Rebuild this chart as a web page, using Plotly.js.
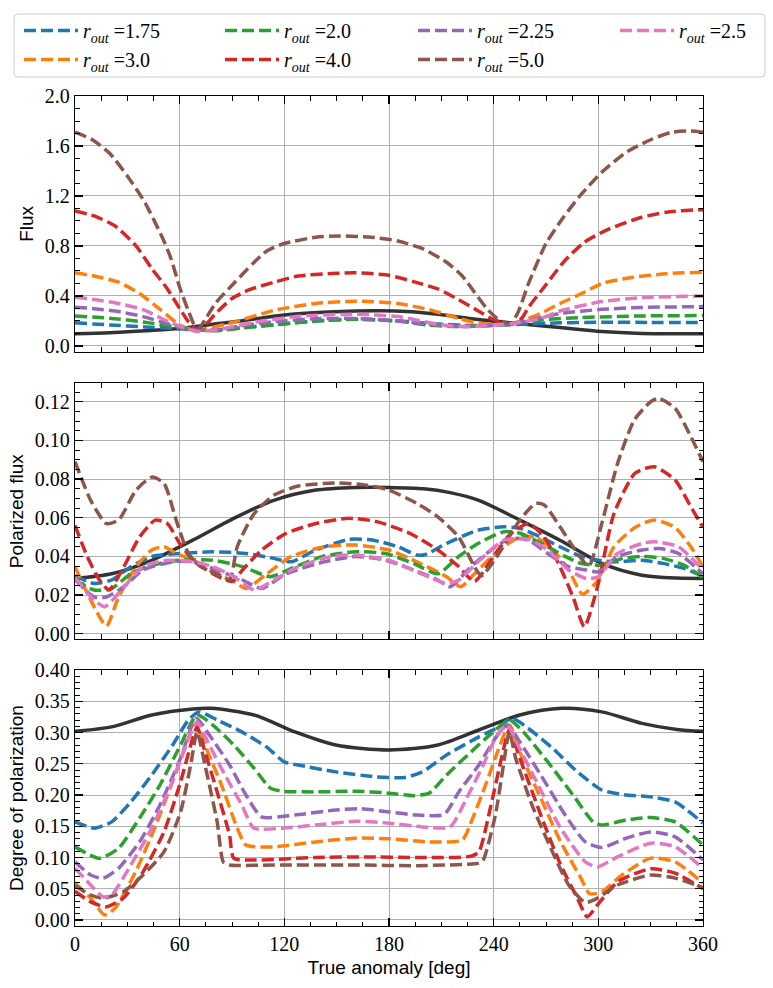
<!DOCTYPE html>
<html>
<head>
<meta charset="utf-8">
<script src="https://cdn.plot.ly/plotly-3.0.1.min.js"></script>
<style>
  html, body { margin: 0; padding: 0; background: #fff; }
  #chart { width: 773px; height: 988px; }
</style>
</head>
<body>
<div id="chart"></div>
<script>
// plotting order follows the original (C0..C6)
const rOut = ['1.75', '3.0', '2.0', '4.0', '2.25', '5.0', '2.5'];
const lineColors = ['#1f77b4', '#ff7f0e', '#2ca02c', '#d62728', '#9467bd', '#8c564b', '#e377c2'];
const legendCols = ['legend', 'legend', 'legend2', 'legend2', 'legend3', 'legend3', 'legend4'];

// ---- Flux  [true anomaly deg, value]
const flux_175 = [[0,0.185],[20,0.168],[40,0.152],[60,0.137],[70,0.128],[80,0.127],[95,0.145],[114,0.168],[138,0.20],[160,0.215],[185,0.20],[208,0.176],[231,0.163],[250,0.17],[278,0.185],[302,0.19],[330,0.188],[360,0.187]];
const flux_30 = [[0,0.585],[11,0.56],[25,0.51],[37,0.42],[49,0.29],[60,0.168],[68,0.127],[75,0.138],[91,0.19],[114,0.285],[138,0.34],[161,0.358],[185,0.34],[203,0.29],[220,0.22],[231,0.182],[242,0.175],[250,0.18],[257,0.205],[267,0.26],[278,0.34],[292,0.43],[302,0.50],[320,0.55],[339,0.578],[360,0.59]];
const flux_20 = [[0,0.24],[20,0.222],[40,0.19],[60,0.148],[70,0.13],[80,0.122],[103,0.155],[138,0.20],[161,0.213],[185,0.20],[203,0.166],[220,0.155],[243,0.167],[250,0.175],[267,0.208],[290,0.227],[325,0.24],[360,0.243]];
const flux_40 = [[0,1.08],[11,1.04],[23,0.96],[35,0.80],[44,0.62],[53,0.456],[60,0.30],[65,0.195],[70,0.13],[75,0.17],[80,0.25],[90,0.38],[100,0.45],[114,0.51],[128,0.56],[147,0.58],[161,0.585],[180,0.565],[194,0.515],[208,0.456],[220,0.37],[230,0.29],[240,0.21],[247,0.18],[251,0.175],[256,0.22],[260,0.31],[270,0.49],[280,0.67],[292,0.83],[306,0.935],[325,1.03],[339,1.07],[357,1.09],[360,1.09]];
const flux_225 = [[0,0.31],[11,0.298],[25,0.275],[39,0.235],[53,0.178],[63,0.142],[70,0.127],[80,0.125],[95,0.16],[114,0.195],[138,0.218],[161,0.22],[185,0.20],[208,0.168],[222,0.155],[240,0.165],[255,0.19],[278,0.26],[302,0.293],[325,0.308],[360,0.315]];
const flux_50 = [[0,1.71],[10,1.65],[20,1.54],[30,1.36],[40,1.15],[50,0.87],[55,0.70],[60,0.47],[65,0.28],[69,0.15],[71,0.14],[75,0.22],[81,0.35],[91,0.50],[102,0.66],[110,0.76],[120,0.82],[138,0.87],[152,0.88],[170,0.87],[185,0.84],[199,0.78],[213,0.67],[222,0.56],[229,0.43],[236,0.30],[242,0.22],[247,0.185],[250,0.18],[254,0.27],[260,0.50],[270,0.82],[280,1.03],[290,1.21],[302,1.39],[316,1.55],[330,1.65],[342,1.71],[353,1.72],[360,1.71]];
const flux_25 = [[0,0.39],[11,0.372],[25,0.34],[39,0.29],[53,0.198],[63,0.143],[70,0.117],[82,0.13],[103,0.19],[130,0.24],[161,0.253],[185,0.235],[208,0.173],[222,0.155],[236,0.162],[250,0.178],[267,0.22],[278,0.28],[302,0.355],[325,0.387],[360,0.40]];
const flux_ref = [[0,0.097],[20,0.105],[40,0.122],[60,0.14],[80,0.175],[95,0.20],[110,0.23],[126,0.255],[145,0.272],[161,0.28],[175,0.282],[190,0.276],[205,0.258],[220,0.232],[235,0.205],[255,0.178],[278,0.147],[302,0.115],[325,0.10],[345,0.097],[360,0.097]];

// ---- Polarized flux
const pol_175 = [[0,0.030],[11,0.026],[21,0.0278],[32,0.0347],[44,0.040],[60,0.0415],[79,0.0424],[98,0.0415],[114,0.039],[124,0.0372],[138,0.0433],[157,0.0488],[171,0.0484],[185,0.045],[196,0.0407],[201,0.041],[213,0.0467],[231,0.0536],[246,0.0553],[255,0.0545],[267,0.050],[278,0.045],[290,0.040],[300,0.038],[311,0.0372],[325,0.038],[337,0.0364],[349,0.0338],[360,0.030]];
const pol_30 = [[0,0.0347],[9,0.0174],[18,0.004],[25,0.019],[35,0.0347],[44,0.0433],[51,0.045],[58,0.0416],[68,0.038],[79,0.032],[91,0.027],[98,0.0234],[110,0.031],[124,0.040],[143,0.045],[161,0.0459],[180,0.0433],[196,0.0372],[213,0.0295],[221,0.0243],[229,0.031],[243,0.0433],[255,0.050],[264,0.050],[274,0.0433],[283,0.033],[291,0.0205],[300,0.0278],[309,0.045],[321,0.055],[332,0.0588],[344,0.055],[353,0.045],[360,0.0347]];
const pol_20 = [[0,0.028],[11,0.0226],[21,0.0234],[32,0.031],[44,0.0355],[60,0.038],[79,0.038],[96,0.0347],[112,0.0295],[124,0.0338],[142,0.040],[161,0.0424],[178,0.0415],[194,0.0364],[208,0.031],[220,0.040],[231,0.0467],[246,0.0528],[255,0.052],[269,0.0459],[281,0.040],[290,0.0364],[302,0.0355],[314,0.039],[325,0.040],[337,0.039],[349,0.0355],[360,0.029]];
const pol_40 = [[0,0.056],[7,0.040],[14,0.0278],[19.5,0.0226],[28,0.0347],[37,0.050],[46,0.0588],[53,0.057],[60,0.0467],[68,0.038],[79,0.031],[90,0.027],[96,0.033],[107,0.0433],[121,0.0519],[138,0.057],[157,0.0597],[173,0.058],[192,0.0519],[208,0.0433],[220,0.0347],[229,0.027],[241,0.0415],[250,0.0519],[260,0.057],[269,0.050],[278,0.0347],[285.5,0.019],[292,0.0036],[299.5,0.0243],[309,0.0622],[321,0.083],[332,0.0864],[344,0.0795],[353,0.0657],[360,0.055]];
const pol_225 = [[0,0.028],[11,0.019],[18,0.019],[28,0.0243],[39,0.033],[56,0.0372],[68,0.0372],[79,0.0338],[96,0.0278],[107,0.0234],[121,0.031],[143,0.0372],[161,0.040],[178,0.038],[194,0.033],[208,0.0278],[215,0.0243],[227,0.0347],[241,0.045],[250,0.0493],[260,0.0484],[271,0.0415],[283,0.0347],[293,0.033],[300,0.032],[311,0.040],[325,0.0433],[335,0.0441],[346,0.0415],[360,0.031]];
const pol_50 = [[0,0.089],[9,0.069],[18,0.057],[25,0.0588],[35,0.0743],[44,0.081],[51,0.0778],[58,0.0588],[65,0.0415],[72,0.0347],[81.5,0.031],[88.6,0.028],[93,0.045],[102.6,0.062],[114,0.0717],[128,0.0764],[149.5,0.078],[166,0.077],[180,0.0743],[196,0.0674],[208,0.0605],[220,0.050],[229,0.0347],[233,0.030],[243,0.0415],[255,0.0588],[264,0.0674],[269,0.0666],[278,0.0553],[285.5,0.045],[292.5,0.0364],[295,0.0355],[302,0.057],[311,0.088],[320.6,0.1105],[330,0.12],[334.6,0.1217],[344,0.1166],[353,0.102],[360,0.089]];
const pol_25 = [[0,0.029],[11,0.0174],[17,0.014],[25,0.0209],[39,0.0347],[53,0.038],[68,0.0372],[79,0.0347],[91,0.0295],[103,0.0226],[114,0.0278],[128,0.0347],[147,0.040],[161,0.0407],[180,0.038],[196,0.032],[213,0.026],[220,0.0278],[232,0.038],[246,0.0484],[260,0.0488],[271,0.0433],[283,0.033],[293,0.0286],[300,0.0295],[311,0.0415],[325,0.0467],[332,0.0476],[346,0.045],[360,0.033]];
const pol_ref = [[0,0.0286],[21,0.031],[44,0.038],[67.5,0.0484],[91,0.0597],[114,0.069],[138,0.0743],[161,0.0757],[180,0.0757],[200,0.075],[215,0.073],[231.5,0.069],[255,0.0588],[278,0.0484],[302,0.0364],[325,0.0303],[345,0.0288],[360,0.0286]];

// ---- Degree of polarization
const dop_175 = [[0,0.157],[11,0.147],[21,0.157],[32,0.189],[44,0.232],[56,0.28],[65,0.32],[71,0.333],[81.5,0.32],[95.6,0.301],[109.7,0.277],[120,0.253],[128,0.248],[149.5,0.237],[173,0.229],[189,0.228],[199,0.237],[213,0.264],[231.5,0.293],[243,0.309],[250.3,0.323],[259.7,0.307],[273.7,0.275],[288,0.237],[302,0.208],[316,0.20],[330,0.197],[344,0.189],[360,0.155]];
const dop_30 = [[0,0.059],[9,0.035],[17,0.008],[23,0.019],[34.7,0.077],[46.4,0.152],[58,0.237],[67.5,0.307],[70,0.317],[74.5,0.28],[84,0.216],[93,0.147],[98,0.12],[114,0.117],[138,0.125],[161,0.131],[180,0.13],[203,0.125],[222,0.128],[228,0.163],[236,0.221],[243,0.275],[249,0.312],[255,0.269],[267,0.195],[278.4,0.125],[290,0.067],[295,0.042],[302,0.045],[313.6,0.072],[330,0.099],[344,0.093],[360,0.059]];
const dop_20 = [[0,0.117],[14,0.0987],[25,0.115],[37,0.163],[48.7,0.216],[60.5,0.28],[70,0.328],[79,0.312],[91,0.28],[102.6,0.243],[112,0.211],[119,0.206],[138,0.205],[161,0.206],[180,0.203],[194,0.199],[203,0.203],[213,0.232],[227,0.269],[241,0.304],[249,0.32],[257,0.301],[271,0.253],[285.5,0.20],[297,0.157],[302,0.152],[316,0.16],[330,0.164],[344,0.157],[360,0.12]];
const dop_40 = [[0,0.046],[9,0.029],[18,0.021],[27.7,0.035],[39,0.077],[51,0.141],[60.5,0.221],[67.5,0.291],[70,0.309],[74.5,0.269],[81.5,0.205],[88.6,0.136],[91,0.099],[102.6,0.096],[138,0.10],[166,0.101],[196,0.10],[227,0.102],[231.5,0.109],[238.5,0.184],[244.5,0.259],[249,0.304],[255,0.259],[267,0.168],[278.4,0.088],[288,0.035],[293.6,0.005],[299.5,0.024],[311,0.061],[330,0.082],[344,0.075],[360,0.05]];
const dop_225 = [[0,0.093],[9,0.072],[16,0.0667],[25,0.083],[37,0.125],[48.7,0.184],[60.5,0.259],[69.5,0.323],[77,0.296],[88.6,0.248],[98,0.20],[107,0.165],[126,0.168],[149.5,0.176],[163.6,0.178],[180,0.173],[196,0.168],[211.6,0.169],[220,0.205],[231.5,0.248],[241,0.291],[248,0.312],[255,0.285],[267,0.232],[281,0.168],[292.5,0.125],[302,0.116],[316,0.131],[330,0.141],[344,0.133],[360,0.096]];
const dop_50 = [[0,0.055],[9,0.04],[16,0.035],[27.7,0.045],[39,0.072],[51,0.109],[60.5,0.173],[66.3,0.248],[70,0.301],[74.5,0.248],[81.5,0.157],[85,0.093],[88.6,0.088],[114,0.088],[161,0.088],[196,0.087],[231.5,0.091],[234,0.096],[241,0.168],[245.6,0.248],[249,0.301],[252.6,0.259],[262,0.184],[273.7,0.109],[283,0.056],[292.5,0.028],[299.5,0.035],[311,0.056],[330,0.072],[344,0.067],[360,0.052]];
const dop_25 = [[0,0.083],[9,0.056],[16,0.037],[21,0.04],[32,0.088],[44,0.147],[55.8,0.221],[65,0.291],[70,0.317],[77,0.28],[86,0.232],[95.6,0.184],[102.6,0.147],[119,0.147],[138,0.152],[161,0.158],[180,0.155],[199,0.149],[215,0.149],[224.5,0.195],[234,0.248],[242,0.296],[248,0.312],[253,0.285],[264.6,0.221],[278.4,0.147],[292.5,0.093],[299.5,0.085],[311,0.101],[330,0.123],[344,0.117],[360,0.083]];
const dop_ref = [[0,0.302],[21,0.309],[44,0.328],[67.5,0.3376],[78,0.3387],[102.6,0.328],[126,0.301],[149.5,0.28],[180,0.272],[208,0.28],[231.5,0.304],[255,0.328],[279,0.3387],[302,0.333],[325,0.3147],[345,0.305],[360,0.302]];

const fluxSeries = [flux_175, flux_30, flux_20, flux_40, flux_225, flux_50, flux_25];
const polSeries = [pol_175, pol_30, pol_20, pol_40, pol_225, pol_50, pol_25];
const dopSeries = [dop_175, dop_30, dop_20, dop_40, dop_225, dop_50, dop_25];

const serif = 'Liberation Serif, DejaVu Serif, serif';
const sans = 'Liberation Sans, Arial, sans-serif';

var data = [];

function addPanel(series, refCurve, xa, ya, withLegend) {
  data.push({
    x: refCurve.map(p => p[0]),
    y: refCurve.map(p => p[1]),
    xaxis: xa, yaxis: ya,
    mode: 'lines',
    line: {color: 'rgba(0,0,0,0.8)', width: 3.5, shape: 'spline', smoothing: 0.8},
    showlegend: false,
    hoverinfo: 'skip'
  });
  for (var i = 0; i < series.length; i++) {
    data.push({
      x: series[i].map(p => p[0]),
      y: series[i].map(p => p[1]),
      xaxis: xa, yaxis: ya,
      mode: 'lines',
      name: '<i>r</i><sub><i>out</i></sub> =' + rOut[i],
      legend: legendCols[i],
      line: {color: lineColors[i], width: 3.5, dash: '12px,5px', shape: 'spline', smoothing: 0.6},
      showlegend: withLegend
    });
  }
}

addPanel(fluxSeries, flux_ref, 'x', 'y', true);
addPanel(polSeries, pol_ref, 'x2', 'y2', false);
addPanel(dopSeries, dop_ref, 'x3', 'y3', false);

function xAxis(anchor, showLabels) {
  return {
    anchor: anchor,
    domain: [0, 1],
    range: [0, 360],
    tick0: 0, dtick: 60,
    ticks: 'inside', ticklen: 8, tickwidth: 1.2, tickcolor: '#000',
    minor: {dtick: 15, ticks: 'inside', ticklen: 4.5, tickwidth: 1, tickcolor: '#000', showgrid: false},
    showline: true, linecolor: '#000', linewidth: 1.2, mirror: 'allticks',
    showgrid: true, gridcolor: '#b0b0b0', gridwidth: 1,
    zeroline: false,
    showticklabels: showLabels,
    tickangle: 0,
    tickfont: {family: serif, size: 20, color: '#000'}
  };
}

function yAxis(anchor, domain, range, dtick, minorDtick, fmt, title) {
  return {
    anchor: anchor,
    domain: domain,
    range: range,
    tick0: 0, dtick: dtick, tickformat: fmt,
    ticks: 'inside', ticklen: 8, tickwidth: 1.2, tickcolor: '#000',
    minor: {dtick: minorDtick, ticks: 'inside', ticklen: 4.5, tickwidth: 1, tickcolor: '#000', showgrid: false},
    showline: true, linecolor: '#000', linewidth: 1.2, mirror: 'allticks',
    showgrid: true, gridcolor: '#b0b0b0', gridwidth: 1,
    zeroline: false,
    tickfont: {family: serif, size: 20, color: '#000'},
    title: {text: title, font: {family: sans, size: 19, color: '#000'}, standoff: 6}
  };
}

function legendAt(px, py) {
  return {
    xref: 'paper', yref: 'paper',
    x: (px - 75) / 628, y: (926 - py) / 830,
    xanchor: 'left', yanchor: 'top',
    orientation: 'v',
    bgcolor: 'rgba(0,0,0,0)', borderwidth: 0,
    itemwidth: 54,
    font: {family: serif, size: 20, color: '#000'},
    tracegroupgap: 0
  };
}

// rounded legend frame, paper coordinates
var fx0 = (14 - 75) / 628, fx1 = (765 - 75) / 628;
var fy0 = (926 - 77) / 830, fy1 = (926 - 14) / 830;
var rx = 4 / 628, ry = 4 / 830;
var framePath = 'M' + (fx0 + rx) + ',' + fy0 + ' L' + (fx1 - rx) + ',' + fy0 +
  ' Q' + fx1 + ',' + fy0 + ' ' + fx1 + ',' + (fy0 + ry) +
  ' L' + fx1 + ',' + (fy1 - ry) + ' Q' + fx1 + ',' + fy1 + ' ' + (fx1 - rx) + ',' + fy1 +
  ' L' + (fx0 + rx) + ',' + fy1 + ' Q' + fx0 + ',' + fy1 + ' ' + fx0 + ',' + (fy1 - ry) +
  ' L' + fx0 + ',' + (fy0 + ry) + ' Q' + fx0 + ',' + fy0 + ' ' + (fx0 + rx) + ',' + fy0 + ' Z';

var layout = {
  width: 773,
  height: 988,
  margin: {l: 75, r: 70, t: 96, b: 62, autoexpand: false},
  paper_bgcolor: '#fff',
  plot_bgcolor: '#fff',
  xaxis: xAxis('y', false),
  xaxis2: xAxis('y2', false),
  xaxis3: Object.assign(xAxis('y3', true), {
    title: {text: 'True anomaly [deg]', font: {family: sans, size: 19, color: '#000'}, standoff: 6}
  }),
  yaxis: yAxis('x', [0.692, 1], [-0.0455, 2.0], 0.4, 0.1, '.1f', 'Flux'),
  yaxis2: yAxis('x2', [0.3458, 0.6538], [-0.0027, 0.1295], 0.02, 0.005, '.2f', 'Polarized flux'),
  yaxis3: yAxis('x3', [0, 0.3084], [-0.0096, 0.40], 0.05, 0.01, '.2f', 'Degree of polarization'),
  legend: legendAt(19, 11),
  legend2: legendAt(220, 11),
  legend3: legendAt(413, 11),
  legend4: legendAt(615, 11),
  shapes: [{
    type: 'path', xref: 'paper', yref: 'paper', path: framePath,
    line: {color: '#cccccc', width: 1}, fillcolor: '#ffffff', layer: 'below'
  }],
  showlegend: true
};

Plotly.newPlot('chart', data, layout, {staticPlot: true});
</script>
</body>
</html>
